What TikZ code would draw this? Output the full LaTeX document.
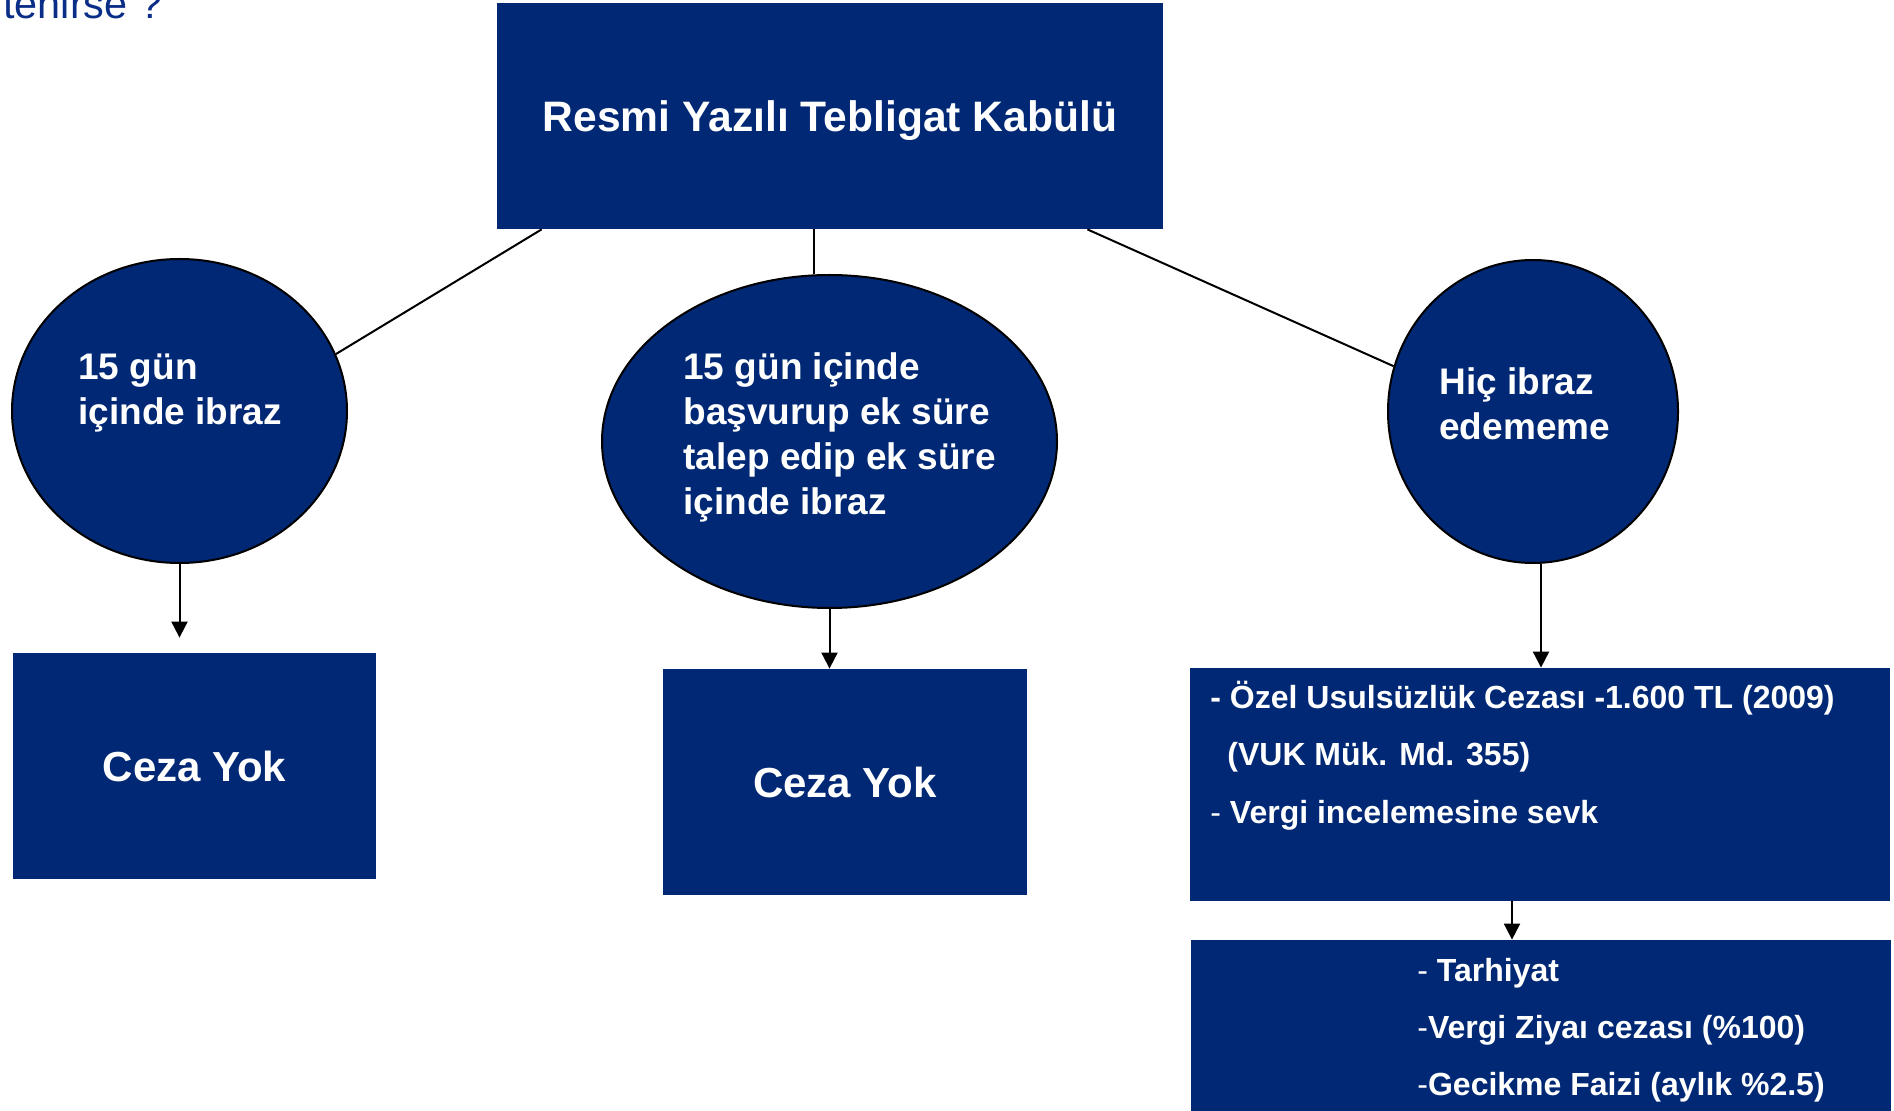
\documentclass[tikz,border=0pt]{standalone}
\usepackage{fontspec}
\setmainfont{Liberation Sans}
\usetikzlibrary{arrows.meta,shapes.geometric}
\definecolor{navy}{RGB}{0,40,116}
\definecolor{titleblue}{RGB}{10,45,135}
\begin{document}
\begin{tikzpicture}[x=0.5pt,y=-0.5pt,
  box/.style={rectangle, fill=navy, draw=none, inner sep=0pt, text depth=0pt, text=white, font=\bfseries\fontsize{21pt}{25pt}\selectfont},
  oval/.style={ellipse, fill=navy, draw=black, line width=1pt, inner sep=0pt},
  ovaltext/.style={anchor=base west, align=left, inner sep=0pt, text=white, font=\bfseries\fontsize{18.5pt}{22.5pt}\selectfont},
  listtext/.style={anchor=base west, align=left, inner sep=0pt, text=white, font=\bfseries\fontsize{16pt}{28.75pt}\selectfont},
  link/.style={draw=black, line width=1pt},
  arrow/.style={link, -{Triangle[length=8pt,width=8pt]}}
]
\clip (0,0) rectangle (1894,1111);

% partially visible heading
\node[anchor=base west, inner sep=0pt, text=titleblue, font=\fontsize{20.7pt}{25pt}\selectfont] (title) at (3,19) {tenirse ?};

% main boxes and ellipses
\node[box, minimum width=333pt, minimum height=113pt, font=\bfseries\fontsize{21.3pt}{25pt}\selectfont] (top) at (830,116) {Resmi Yazılı Tebligat Kabülü};
\node[oval, minimum width=167.5pt, minimum height=152pt] (e1) at (179.5,411) {};
\node[oval, minimum width=227.5pt, minimum height=166.5pt] (e2) at (829.5,441.5) {};
\node[oval, minimum width=145pt, minimum height=151.5pt] (e3) at (1533,411.5) {};

\node[box, minimum width=181.5pt, minimum height=113pt] (b1) at (194.5,766) {Ceza Yok};
\node[box, minimum width=182pt, minimum height=113pt] (b2) at (845,782) {Ceza Yok};
\node[box, minimum width=350pt, minimum height=116.5pt] (b3) at (1540,784.5) {};
\node[box, minimum width=350pt, minimum height=90pt] (b4) at (1541,1030) {};

% texts (anchor = baseline of the last line)
\node[ovaltext] (e1t) at (78,425) {15 gün\\içinde ibraz};
\node[ovaltext] (e2t) at (683,515) {15 gün içinde\\başvurup ek süre\\talep edip ek süre\\içinde ibraz};
\node[ovaltext] (e3t) at (1439,440) {Hiç ibraz\\edememe};
\node[listtext] (b3t) at (1210,823) {- Özel Usulsüzlük Cezası -1.600 TL (2009)\\\hspace*{8.5pt}(VUK Mük. Md. 355)\\\textmd{-} Vergi incelemesine sevk};
\node[listtext, font=\bfseries\fontsize{16pt}{28.5pt}\selectfont] (b4t) at (1417,1095) {\textmd{-} Tarhiyat\\\textmd{-}Vergi Ziyaı cezası (\%100)\\\textmd{-}Gecikme Faizi (aylık \%2.5)};

% connectors
\draw[link] ([xshift=22.5pt]top.south west) -- (e1.20);
\draw[link] ([xshift=-8pt]top.south) -- ([xshift=-8pt]top.south |- e2.north);
\draw[link] ([xshift=-38pt]top.south east) -- (e3.162);

\draw[arrow, shorten >=7.5pt] (e1.south) -- (e1.south |- b1.north);
\draw[arrow] (e2.south) -- (e2.south |- b2.north);
\draw[arrow] ([xshift=4pt]e3.south) -- ([xshift=4pt]e3.south |- b3.north);
\draw[arrow] ([xshift=-14pt]b3.south) -- ([xshift=-14pt]b3.south |- b4.north);
\end{tikzpicture}
\end{document}
